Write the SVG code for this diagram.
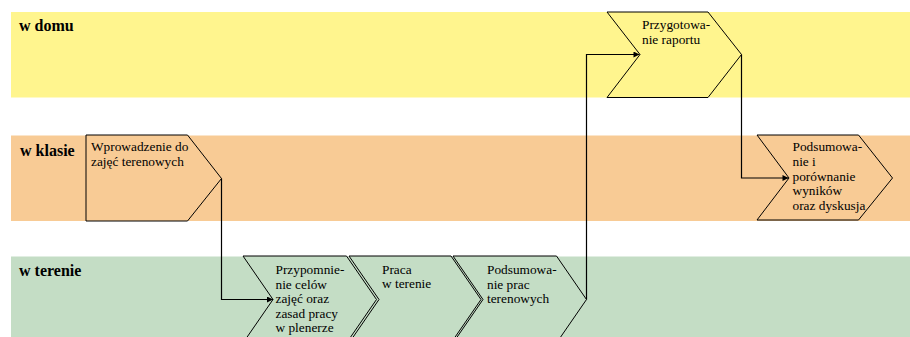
<svg xmlns="http://www.w3.org/2000/svg" width="910" height="337" viewBox="0 0 910 337">
<style>
.lane-label{font-family:"Liberation Serif","Times New Roman",serif;font-size:16px;font-weight:bold;fill:#000}
.t{font-family:"Liberation Serif","Times New Roman",serif;font-size:13.33px;fill:#000}
.shape{stroke:#000;stroke-width:1;stroke-linejoin:miter}
.conn{fill:none;stroke:#000;stroke-width:1.2}
</style>
<defs>
<marker id="arr" viewBox="0 0 10 10" refX="10" refY="5" markerWidth="8" markerHeight="6" markerUnits="userSpaceOnUse" orient="auto">
<path d="M0,0 L10,5 L0,10 z" fill="#000"/>
</marker>
</defs>
<rect width="910" height="337" fill="#fff"/>
<g id="lanes">
<rect x="11" y="12" width="899" height="85.5" fill="#FFF58E"/>
<rect x="11" y="135.5" width="899" height="85.5" fill="#F8CB95"/>
<rect x="11" y="256.5" width="899" height="80.5" fill="#C4DDC5"/>
<text class="lane-label" x="19" y="31">w domu</text>
<text class="lane-label" x="20" y="156">w klasie</text>
<text class="lane-label" x="19" y="276">w terenie</text>
</g>
<g id="n-wprowadzenie">
<polygon class="shape" fill="#F8CB95" points="86,135 187.5,135 221.5,178.5 187.5,221 86,221"/>
<text class="t" x="91" y="150.5">Wprowadzenie do</text>
<text class="t" x="91" y="165.5">zajęć terenowych</text>
</g>
<g id="n-przypomnienie">
<polygon class="shape" fill="#C4DDC5" points="243,256 346.5,256 376.5,299.5 346.5,343 243,343 273,299.5"/>
<text class="t" x="275.5" y="274">Przypomnie-</text>
<text class="t" x="275.5" y="288.5">nie celów</text>
<text class="t" x="275.5" y="303">zajęć oraz</text>
<text class="t" x="275.5" y="317.5">zasad pracy</text>
<text class="t" x="275.5" y="332">w plenerze</text>
</g>
<g id="n-praca">
<polygon class="shape" fill="#C4DDC5" points="349,256 451,256 481,299.5 451,343 349,343 379,299.5"/>
<text class="t" x="382" y="273.5">Praca</text>
<text class="t" x="382" y="287.5">w terenie</text>
</g>
<g id="n-podsumowanie-prac">
<polygon class="shape" fill="#C4DDC5" points="453,256 556.5,256 586.5,299.5 556.5,343 453,343 483,299.5"/>
<text class="t" x="487" y="274">Podsumowa-</text>
<text class="t" x="487" y="288.5">nie prac</text>
<text class="t" x="487" y="303">terenowych</text>
</g>
<g id="n-raport">
<polygon class="shape" fill="#FFF58E" points="607,12 708,12 741.5,54.5 708,97.5 607,97.5 640,54.5"/>
<text class="t" x="642" y="28.5">Przygotowa-</text>
<text class="t" x="642" y="43.5">nie raportu</text>
</g>
<g id="n-podsumowanie">
<polygon class="shape" fill="#F8CB95" points="757,135 858.5,135 892.5,178 858.5,220 757,220 789,178"/>
<text class="t" x="792.5" y="151">Podsumowa-</text>
<text class="t" x="792.5" y="165.5">nie i</text>
<text class="t" x="792.5" y="180.5">porównanie</text>
<text class="t" x="792.5" y="195">wyników</text>
<text class="t" x="792.5" y="210">oraz dyskusja</text>
</g>
<g id="connectors">
<path class="conn" d="M221.5,178.5 V299.5 H273" marker-end="url(#arr)"/>
<path class="conn" d="M586.5,299.5 V54.5 H639.5" marker-end="url(#arr)"/>
<path class="conn" d="M741.5,54.5 V178 H788.5" marker-end="url(#arr)"/>
</g>
</svg>
